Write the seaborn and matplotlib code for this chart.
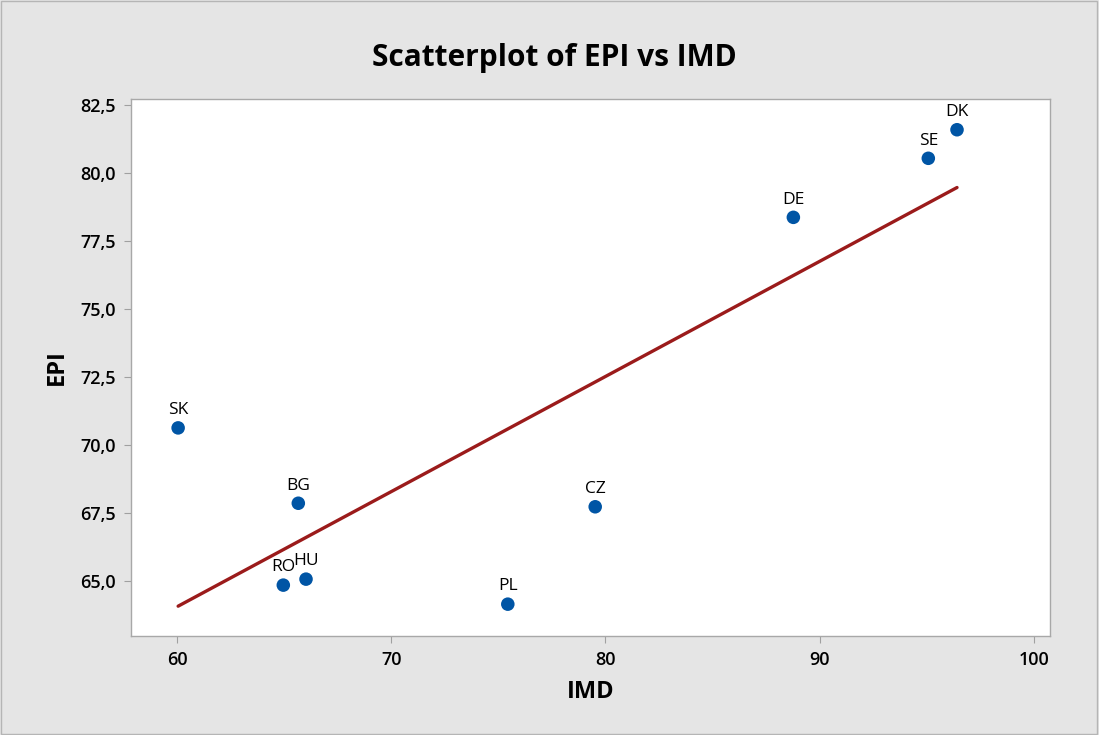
import numpy as np
import pandas as pd
import matplotlib
matplotlib.use("Agg")
import matplotlib.pyplot as plt
import seaborn as sns

# values
countries = ["SK", "BG", "RO", "HU", "PL", "CZ", "DE", "SE", "DK"]
imd = [60.05, 65.66, 64.96, 66.02, 75.44, 79.52, 88.77, 95.07, 96.41]
epi = [70.63, 67.86, 64.85, 65.07, 64.15, 67.73, 78.37, 80.54, 81.59]

x_ticks = [60, 70, 80, 90, 100]
y_ticks = [65.0, 67.5, 70.0, 72.5, 75.0, 77.5, 80.0, 82.5]
y_tick_labels = ["65,0", "67,5", "70,0", "72,5", "75,0", "77,5", "80,0", "82,5"]

df = pd.DataFrame({"Country": countries, "IMD": imd, "EPI": epi})

sns.set_style("white")
plt.rcParams["font.family"] = ["Open Sans", "DejaVu Sans"]

bg = "#e5e5e5"
fig = plt.figure(figsize=(10.99, 7.35), dpi=100, facecolor=bg)
ax = fig.add_axes([0.1192, 0.1347, 0.8362, 0.7306])
ax.set_facecolor("white")

# fitted regression line across the data range
sns.regplot(data=df, x="IMD", y="EPI", ax=ax, scatter=False, ci=None,
            truncate=True, color="#9b1b1b", line_kws={"linewidth": 2.4})
sns.scatterplot(data=df, x="IMD", y="EPI", ax=ax, s=95, color="#0055a5",
                edgecolor="none", zorder=3)

for _, row in df.iterrows():
    ax.annotate(row["Country"], (row["IMD"], row["EPI"]), xytext=(0, 7),
                textcoords="offset points", ha="center", va="bottom",
                fontsize=12.5, color="black")

ax.set_xlim(57.85, 100.75)
ax.set_ylim(62.98, 82.72)
ax.set_xticks(x_ticks)
ax.set_yticks(y_ticks)
ax.set_yticklabels(y_tick_labels)
ax.tick_params(axis="both", labelsize=13, length=5, width=0.8,
               color="#a0a0a0", labelcolor="black", pad=6, direction="out")
ax.tick_params(axis="both", which="both", bottom=True, left=True)
for lbl in ax.get_xticklabels() + ax.get_yticklabels():
    lbl.set_fontweight("semibold")
for sp in ax.spines.values():
    sp.set_color("#a8a8a8")
    sp.set_linewidth(1.0)

ax.set_xlabel("IMD", fontsize=17, fontweight="bold", labelpad=8, color="black")
ax.set_ylabel("EPI", fontsize=17, fontweight="bold", labelpad=8, color="black")
fig.suptitle("Scatterplot of EPI vs IMD", fontsize=21.5, fontweight="bold",
             y=0.921, x=0.504, va="center", color="black")

# thin border around the whole picture
fig.patches.append(plt.Rectangle((0.001, 0.001), 0.997, 0.997, transform=fig.transFigure,
                                 fill=False, edgecolor="#b5b5b5", linewidth=1.0))

fig.savefig("out.png", dpi=100, facecolor=bg)
